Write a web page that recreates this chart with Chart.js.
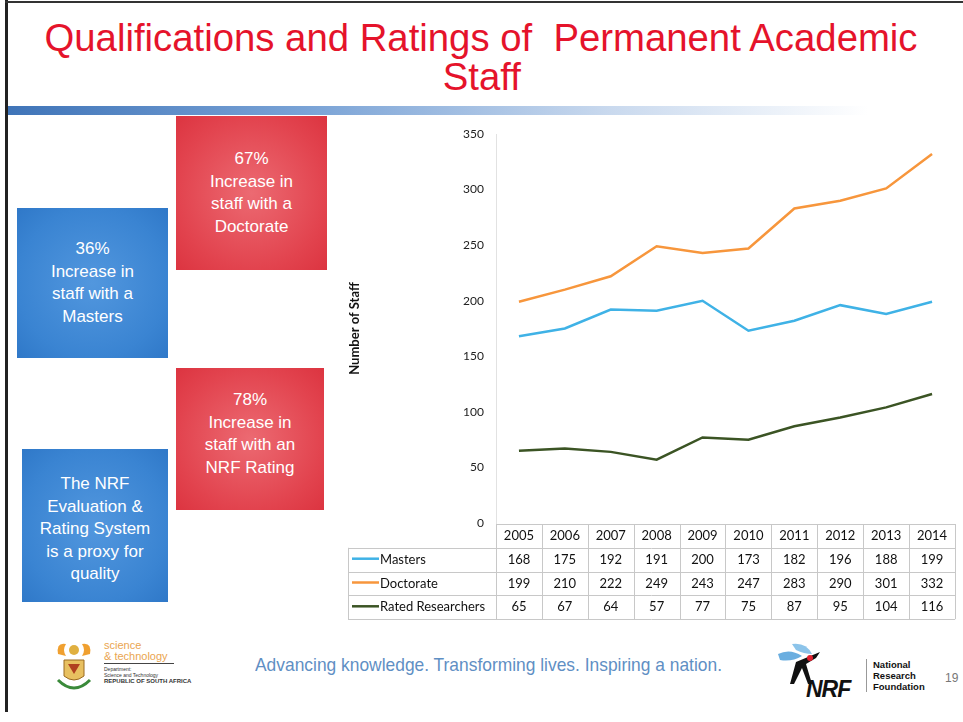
<!DOCTYPE html>
<html lang="en">
<head>
  <meta charset="UTF-8">
  <title>Qualifications and Ratings of Permanent Academic Staff</title>
  <script src="https://cdn.jsdelivr.net/npm/chart.js"></script>
  <style>
    body{
      margin: 0;
      width: 963px;
      height: 722px;
      position: relative;
      overflow: hidden;
      background: #fff;
      font-family: "Liberation Sans", Arial, sans-serif;
    }
    .frame-left{ position:absolute; left:5px; top:0; width:3px; height:712px; background:#222; }
    .frame-top{ position:absolute; left:5px; top:1px; width:958px; height:2px; background:#333; }
    .title{
      position: absolute;
      left: 0; width: 963px;
      text-align: center;
      font-size: 38px;
      line-height: 40px;
      color: #e5132b;
      white-space: nowrap;
    }
    .title span{ display:inline-block; transform-origin: center; }
    .band{
      position:absolute; left:8px; top:106px; width:860px; height:9px;
      background: linear-gradient(to right, #3f74b8 0%, #7aa3d6 35%, #c9d9ee 70%, rgba(255,255,255,0) 100%);
    }
    .box{
      position:absolute;
      color:#fff;
      text-align:center;
      font-size:17px;
      line-height:22.5px;
      display:flex; align-items:center; justify-content:center;
      box-sizing:border-box;
    }
    .red{ background: radial-gradient(ellipse at center, #ec6a72 0%, #e2434e 70%, #dc3440 100%); }
    .blue{ background: radial-gradient(ellipse at center, #5297de 0%, #3a84d2 70%, #2f78c8 100%); }
    .footer-text{
      position:absolute; left:255px; top:654px;
      font-size:19px; color:#5f8fc4; white-space:nowrap;
      transform-origin: left center;
    }
    .dst{ position:absolute; left:104px; top:640px; font-size:11px; line-height:11px; color:#eaa550; }
    .dst .rule{ width:70px; height:1px; background:#444; margin:1px 0 2px; }
    .dst small{ display:block; color:#333; font-size:5px; line-height:6px; }
    .dst small b{ font-size:6px; }
    .nrf{ position:absolute; left:806px; top:676px; font-weight:bold; font-size:23px; color:#111; letter-spacing:-1px; font-style:italic; }
    .nrf-name{ position:absolute; left:866px; top:659px; font-weight:bold; font-size:9.5px; line-height:11px; color:#111; border-left:1px solid #999; padding-left:6px; }
    .page{ position:absolute; left:945px; top:671px; font-size:12px; color:#777; }
    svg.logo{ position:absolute; }
    canvas{ position:absolute; left:0; top:0; }
  </style>
</head>
<body>
  <div class="frame-left"></div>
  <div class="frame-top"></div>
  <div class="title" style="top:18px;"><span id="t1">Qualifications and Ratings of&nbsp; Permanent Academic</span></div>
  <div class="title" style="top:57px;"><span id="t2">Staff</span></div>
  <div class="band"></div>

  <div class="box red" style="left:176px;top:116px;width:151px;height:154px;">67%<br>Increase in<br>staff with a<br>Doctorate</div>
  <div class="box blue" style="left:17px;top:208px;width:151px;height:150px;">36%<br>Increase in<br>staff with a<br>Masters</div>
  <div class="box red" style="left:176px;top:368px;width:148px;height:142px;padding-bottom:10px;">78%<br>Increase in<br>staff with an<br>NRF Rating</div>
  <div class="box blue" style="left:22px;top:449px;width:146px;height:153px;padding-top:8px;">The NRF<br>Evaluation &amp;<br>Rating System<br>is a proxy for<br>quality</div>

  <!-- coat of arms, rough -->
  <svg class="logo" style="left:52px;top:640px" width="44" height="54" viewBox="0 0 44 54">
    <path d="M6 14 Q4 2 14 4 Q10 10 14 16 Z" fill="#f0a030"/>
    <path d="M38 14 Q40 2 30 4 Q34 10 30 16 Z" fill="#f0a030"/>
    <circle cx="22" cy="10" r="5" fill="#e0b040"/>
    <path d="M12 20 L32 20 L32 36 Q22 44 12 36 Z" fill="#e8c060" stroke="#9a6a20" stroke-width="1"/>
    <path d="M6 40 Q22 56 38 40" fill="none" stroke="#3a8a3a" stroke-width="3"/>
    <path d="M16 24 L28 24 L22 34 Z" fill="#b04020"/>
  </svg>
  <div class="dst">science<br>&amp; technology<div class="rule"></div><small>Department:<br>Science and Technology<br><b>REPUBLIC OF SOUTH AFRICA</b></small></div>
  <div class="footer-text" id="foot">Advancing knowledge. Transforming lives. Inspiring a nation.</div>
  <!-- NRF mark, rough -->
  <svg class="logo" style="left:776px;top:640px" width="50" height="50" viewBox="0 0 50 50">
    <path d="M2 14 Q14 8 26 16 Q16 22 4 20 Z" fill="#6aaee0"/>
    <path d="M16 4 Q30 2 36 14 Q28 14 20 10 Z" fill="#8cc4ea"/>
    <path d="M20 22 L44 12 L40 18 L30 24 L36 44 L32 44 L26 28 L18 44 L14 44 Z" fill="#111"/>
    <circle cx="34" cy="18" r="3" fill="#e02030"/>
  </svg>
  <div class="nrf">NRF</div>
  <div class="nrf-name">National<br>Research<br>Foundation</div>
  <div class="page">19</div>

  <canvas id="myChart" width="963" height="722"></canvas>

  <script>
    // chart data
    const years = ['2005', '2006', '2007', '2008', '2009', '2010', '2011', '2012', '2013', '2014'];
    const masters = [168, 175, 192, 191, 200, 173, 182, 196, 188, 199];
    const doctorate = [199, 210, 222, 249, 243, 247, 283, 290, 301, 332];
    const rated = [65, 67, 64, 57, 77, 75, 87, 95, 104, 116];
    const seriesNames = ['Masters', 'Doctorate', 'Rated Researchers'];
    const seriesColors = ['#3fb2e6', '#f7963c', '#3b5424'];

    // squeeze the slide texts to the widths seen on the slide
    function fitWidth(el, w, origin) {
      const s = w / el.getBoundingClientRect().width;
      el.style.transformOrigin = origin;
      el.style.transform = 'scaleX(' + s + ')';
      return s;
    }
    const sx = fitWidth(document.getElementById('t1'), 873, 'center');
    document.getElementById('t2').style.transform = 'scaleX(' + sx + ')';
    fitWidth(document.getElementById('foot'), 467, 'left center');

    const tableFont = '13px Lato, "Liberation Sans", sans-serif';

    // draws the excel style data table under the plot, using the x scale
    const dataTable = {
      id: 'dataTable',
      afterDraw(chart) {
        const ctx = chart.ctx;
        const x = chart.scales.x;
        const area = chart.chartArea;
        const colW = x.getPixelForValue(1) - x.getPixelForValue(0);
        const top = area.bottom + 1;
        const rowH = 23.8;
        const tableLeft = 348;
        const rows = [masters, doctorate, rated];

        ctx.save();
        ctx.strokeStyle = '#c8c8c8';
        ctx.lineWidth = 1;
        ctx.beginPath();
        ctx.moveTo(area.left, top + 0.5);
        ctx.lineTo(area.right, top + 0.5);
        for (let r = 1; r <= 4; r++) {
          const y = Math.round(top + r * rowH) + 0.5;
          ctx.moveTo(tableLeft, y);
          ctx.lineTo(area.right, y);
        }
        for (let i = 0; i <= years.length; i++) {
          const xx = Math.round(area.left + i * colW) + 0.5;
          ctx.moveTo(xx, top);
          ctx.lineTo(xx, top + 4 * rowH);
        }
        ctx.moveTo(tableLeft + 0.5, top + rowH);
        ctx.lineTo(tableLeft + 0.5, top + 4 * rowH);
        ctx.stroke();

        ctx.font = tableFont;
        ctx.fillStyle = '#111';
        ctx.textAlign = 'center';
        ctx.textBaseline = 'middle';
        years.forEach((yr, i) => {
          ctx.fillText(yr, x.getPixelForValue(i), top + rowH / 2);
        });
        rows.forEach((vals, r) => {
          const cy = top + (r + 1.5) * rowH;
          vals.forEach((v, i) => {
            ctx.fillText(String(v), x.getPixelForValue(i), cy);
          });
          // legend key
          ctx.strokeStyle = seriesColors[r];
          ctx.lineWidth = 2.5;
          ctx.beginPath();
          ctx.moveTo(352, cy - 1);
          ctx.lineTo(379, cy - 1);
          ctx.stroke();
          ctx.textAlign = 'left';
          ctx.fillText(seriesNames[r], 380, cy);
          ctx.textAlign = 'center';
        });
        ctx.restore();
      }
    };

    const ctx = document.getElementById('myChart').getContext('2d');
    const myChart = new Chart(ctx, {
      type: 'line',
      data: {
        labels: years,
        datasets: [
          { label: seriesNames[0], data: masters, borderColor: seriesColors[0] },
          { label: seriesNames[1], data: doctorate, borderColor: seriesColors[1] },
          { label: seriesNames[2], data: rated, borderColor: seriesColors[2] }
        ]
      },
      options: {
        responsive: false,
        animation: false,
        layout: {
          padding: { left: 340, right: 8, top: 134, bottom: 199 }
        },
        elements: {
          line: { borderWidth: 2.5, tension: 0 },
          point: { radius: 0 }
        },
        plugins: {
          legend: { display: false },
          tooltip: { enabled: false }
        },
        scales: {
          x: {
            offset: true,
            display: false
          },
          y: {
            min: 0,
            max: 350,
            ticks: {
              stepSize: 50,
              padding: 12,
              color: '#222',
              font: { family: 'Lato, "Liberation Sans", sans-serif', size: 12 }
            },
            grid: { display: false, drawTicks: false },
            border: { display: true, color: '#e2e2e2', width: 1 },
            title: {
              display: true,
              text: 'Number of Staff',
              color: '#111',
              padding: { top: 7, bottom: 0 },
              font: { family: 'Lato, "Liberation Sans", sans-serif', size: 13, weight: 'bold' }
            },
            afterFit(scale) {
              scale.width = 156; // keep plot left edge where the table starts
            }
          }
        }
      },
      plugins: [dataTable]
    });
  </script>
</body>
</html>
